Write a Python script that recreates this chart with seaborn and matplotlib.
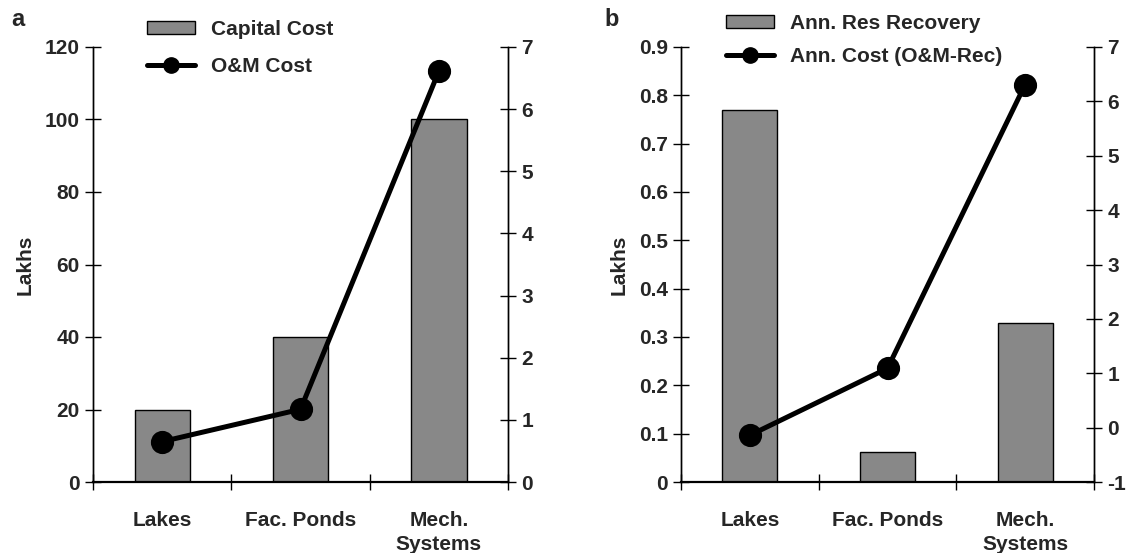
import matplotlib
matplotlib.use("Agg")
import matplotlib.pyplot as plt
import seaborn as sns
import numpy as np
from matplotlib.patches import Patch
from matplotlib.lines import Line2D
from matplotlib.ticker import FuncFormatter

categories = ["Lakes", "Fac. Ponds", "Mech.\nSystems"]
capital_cost = [20, 40, 100]
om_cost = [0.65, 1.17, 6.61]
res_recovery = [0.77, 0.062, 0.33]
ann_cost = [-0.14, 1.09, 6.31]

a_left_ticks = [0, 20, 40, 60, 80, 100, 120]
a_right_ticks = [0, 1, 2, 3, 4, 5, 6, 7]
b_left_ticks = [0, 0.1, 0.2, 0.3, 0.4, 0.5, 0.6, 0.7, 0.8, 0.9]
b_right_ticks = [-1, 0, 1, 2, 3, 4, 5, 6, 7]

sns.set_theme(style="white")
plt.rcParams["font.family"] = ["Liberation Sans", "DejaVu Sans"]
plt.rcParams["font.weight"] = "bold"

W, H = 1129, 553
fig = plt.figure(figsize=(W / 100, H / 100), dpi=100)

FS = 15
BAR_COLOR = "#888888"


def fmt_num(v, pos):
    if abs(v) < 1e-9:
        return "0"
    if float(v).is_integer():
        return f"{int(v)}"
    return f"{v:g}"


def panel(rect, bars, line, lticks, rticks, bar_label, line_label, letter,
          letter_xy, leg_xy, leg_spacing):
    ax = fig.add_axes(rect)
    sns.barplot(x=categories, y=bars, ax=ax, color=BAR_COLOR, edgecolor="black",
                linewidth=1.0, width=0.4, saturation=1)
    ax2 = ax.twinx()
    sns.pointplot(x=categories, y=line, ax=ax2, color="black", markers="o",
                  markersize=14, linewidth=3.6)
    ax.set_xlim(-0.5, 2.5)
    ax.set_ylim(lticks[0], lticks[-1])
    ax2.set_ylim(rticks[0], rticks[-1])
    ax.set_yticks(lticks)
    ax2.set_yticks(rticks)
    ax.yaxis.set_major_formatter(FuncFormatter(fmt_num))
    ax2.yaxis.set_major_formatter(FuncFormatter(fmt_num))
    ax.set_xticks([0, 1, 2])
    ax.set_xticklabels(categories, fontsize=FS, fontweight="bold", linespacing=1.3)
    ax.set_xticks([-0.5, 0.5, 1.5, 2.5], minor=True)
    ax.tick_params(axis="x", which="major", length=0, pad=21)
    ax.tick_params(axis="x", which="minor", direction="inout", length=11,
                   width=1, color="black", bottom=True)
    for a in (ax, ax2):
        a.tick_params(axis="y", direction="inout", length=11, width=1,
                      color="black", labelsize=FS, pad=4)
        for t in a.get_yticklabels():
            t.set_fontweight("bold")
        a.spines["top"].set_visible(False)
        a.set_facecolor("none")
        a.grid(False)
    ax.tick_params(axis="y", left=True)
    ax2.tick_params(axis="y", right=True)
    for s in ("left", "right"):
        ax.spines[s].set_color("black")
        ax.spines[s].set_linewidth(1.0)
        ax2.spines[s].set_color("black")
        ax2.spines[s].set_linewidth(1.0)
    ax.spines["bottom"].set_color("black")
    ax.spines["bottom"].set_linewidth(1.6)
    ax2.spines["bottom"].set_visible(False)
    ax.set_xlabel("")
    ax.set_ylabel("Lakhs", fontsize=FS, fontweight="bold", labelpad=7)
    ax2.set_ylabel("")
    for t in ax.get_xticklabels():
        t.set_fontweight("bold")

    handles = [Patch(facecolor=BAR_COLOR, edgecolor="black", linewidth=1.0),
               Line2D([0], [0], color="black", linewidth=3.6, marker="o",
                      markersize=11)]
    leg = ax2.legend(handles, [bar_label, line_label], loc="upper left",
                     bbox_to_anchor=(leg_xy[0] / W, 1 - leg_xy[1] / H),
                     bbox_transform=fig.transFigure, frameon=False,
                     fontsize=FS, handlelength=2.3, handleheight=0.55,
                     handletextpad=0.75, labelspacing=leg_spacing,
                     borderpad=0, borderaxespad=0)
    for t in leg.get_texts():
        t.set_fontweight("bold")
    fig.text(letter_xy[0] / W, 1 - letter_xy[1] / H, letter, fontsize=17,
             fontweight="bold", va="top", ha="left")
    return ax, ax2


bottom = (H - 482) / H
height = (482 - 47) / H
panel([93 / W, bottom, (508 - 93) / W, height], capital_cost, om_cost,
      a_left_ticks, a_right_ticks, "Capital Cost", "O&M Cost", "a",
      (11, 8), (147, 20), 0.85)
panel([681 / W, bottom, (1094 - 681) / W, height], res_recovery, ann_cost,
      b_left_ticks, b_right_ticks, "Ann. Res Recovery", "Ann. Cost (O&M-Rec)",
      "b", (604, 8), (726, 14), 0.65)

fig.savefig("out.png", dpi=100)
